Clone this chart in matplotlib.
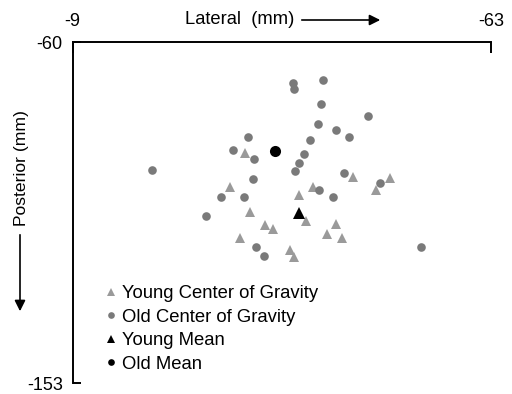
import numpy as np
from matplotlib import pyplot as plt
from matplotlib.lines import Line2D

plt.rcParams['font.family'] = ['Liberation Sans', 'DejaVu Sans']

# Centros de gravidade (lateral, posterior) em mm
old_x = [-37.45, -37.58, -41.36, -41.10, -47.17, -40.72, -43.00, -44.68, -31.68,
         -39.68, -29.71, -32.46, -38.87, -38.26, -37.71, -19.30, -44.03, -48.64,
         -32.33, -40.77, -42.57, -28.12, -31.13, -26.19, -32.72, -33.75, -54.01]
old_y = [-71.0, -72.83, -70.29, -76.84, -80.12, -82.38, -83.86, -85.85, -85.85,
         -86.67, -89.32, -91.86, -90.49, -93.03, -95.13, -94.78, -95.68, -98.33,
         -97.40, -100.32, -102.23, -102.23, -102.23, -107.42, -115.88, -118.25, -115.88]

young_x = [-31.30, -29.36, -40.07, -45.23, -50.01, -48.16, -38.19, -31.86, -39.13,
           -33.80, -34.87, -43.04, -41.84, -43.81, -30.61, -37.10, -37.62]
young_y = [-90.14, -99.42, -99.42, -96.69, -97.05, -100.40, -101.77, -106.41, -108.86,
           -109.79, -111.05, -109.52, -112.41, -113.50, -113.50, -116.70, -118.69]

old_mean = (-35.17, -89.76)
young_mean = (-38.19, -106.68)

x_lim = (-9, -63)
y_lim = (-153, -60)

W, H = 512, 394
fig = plt.figure(figsize=(W / 100, H / 100), dpi=100)
ax = fig.add_axes([72.5 / W, 1 - 383 / H, (491 - 72.5) / W, (383 - 42.3) / H])


def px(x, y):
    # pixel (origem no topo) -> fração da figura
    return x / W, 1 - y / H


cor_old = '#7a7a7a'
cor_young = '#9a9a9a'

ax.plot(young_x, young_y, '^', color=cor_young, ms=7.2, mew=0, ls='none')
ax.plot(old_x, old_y, 'o', color=cor_old, ms=6.2, mew=0, ls='none')
ax.plot(*young_mean, '^', color='black', ms=8, mew=0)
ax.plot(*old_mean, 'o', color='black', ms=8, mew=0)

ax.set_xlim(*x_lim)
ax.set_ylim(*y_lim)
ax.set_xticks(list(x_lim))
ax.set_yticks(list(y_lim))
ax.set_xticklabels(['-9', '-63'])
ax.set_yticklabels(['-153', '-60'])
ax.xaxis.tick_top()
ax.spines['bottom'].set_visible(False)
ax.spines['right'].set_visible(False)
for s in ['top', 'left']:
    ax.spines[s].set_linewidth(1.4)
ax.tick_params(axis='x', direction='in', length=8, width=1.4, pad=9, labelsize=13)
ax.tick_params(axis='y', direction='in', length=5.5, width=1.4, pad=7, labelsize=13)

# Rótulos com setas
fig.text(*px(185, 20), 'Lateral  (mm)', ha='left', va='center', fontsize=13.2)
ax.annotate('', xy=px(383, 20), xytext=px(299, 20), xycoords='figure fraction',
            textcoords='figure fraction',
            arrowprops=dict(arrowstyle='-|>', color='black', lw=1.2, mutation_scale=16))
fig.text(*px(22, 168), 'Posterior (mm)', ha='center', va='center', rotation=90, fontsize=12.6)
ax.annotate('', xy=px(20, 314), xytext=px(20, 232), xycoords='figure fraction',
            textcoords='figure fraction',
            arrowprops=dict(arrowstyle='-|>', color='black', lw=1.2, mutation_scale=16))

handles = [
    Line2D([], [], marker='^', color=cor_young, ls='none', ms=5.5, mew=0),
    Line2D([], [], marker='o', color=cor_old, ls='none', ms=4.8, mew=0),
    Line2D([], [], marker='^', color='black', ls='none', ms=5.5, mew=0),
    Line2D([], [], marker='o', color='black', ls='none', ms=4.8, mew=0),
]
labels = ['Young Center of Gravity', 'Old Center of Gravity', 'Young Mean', 'Old Mean']
fig.legend(handles, labels, loc='upper left', bbox_to_anchor=px(105, 285), frameon=False,
           fontsize=13.3, handlelength=0.7, handletextpad=0.2, labelspacing=0.36,
           borderpad=0, borderaxespad=0)

fig.savefig('out.png', dpi=100)
